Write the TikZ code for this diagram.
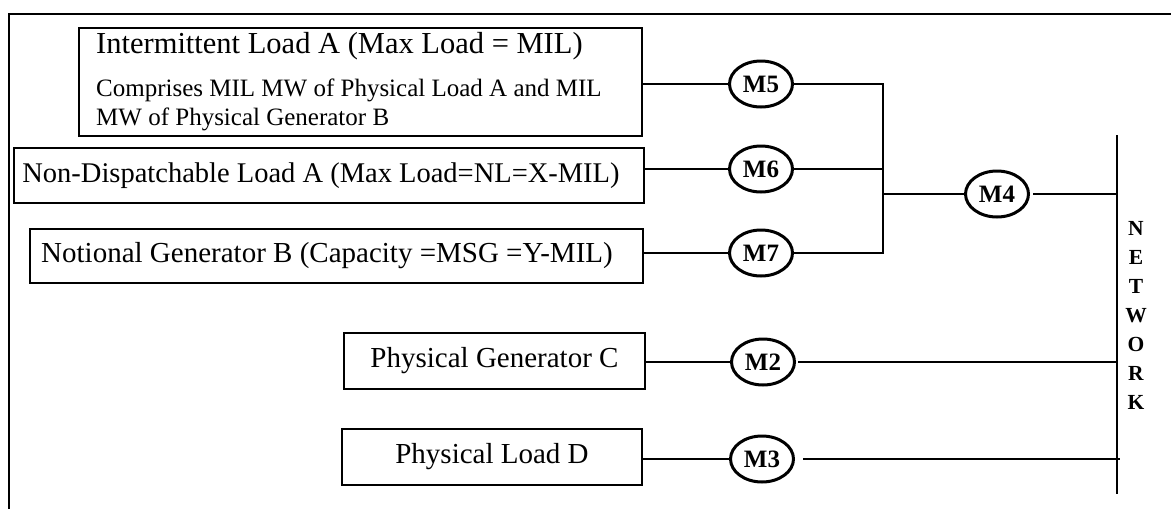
\documentclass[tikz,border=0pt]{standalone}
\usepackage{fontspec}
\setmainfont{Liberation Serif}
\usetikzlibrary{shapes.geometric}
\begin{document}
\begin{tikzpicture}[x=1pt,y=-1pt,
  box/.style={draw, line width=1.3pt, rectangle, inner sep=0pt, font=\fontsize{29}{32}\selectfont},
  meter/.style={draw, ellipse, line width=3pt, minimum width=63pt, minimum height=46pt, inner sep=0pt, font=\bfseries\fontsize{25}{28}\selectfont},
  wire/.style={line width=1.3pt},
  txt/.style={inner sep=0pt, anchor=base west}]
\useasboundingbox (0,0) rectangle (1171,509);
\draw[line width=2.7pt] (9,509) -- (9,14) -- (1171,14);
% boxes
\node[box, minimum width=563pt, minimum height=108pt] (b1) at (360.5,82) {};
\node[txt, font=\fontsize{30.5}{32}\selectfont] (t1) at (96,53) {Intermittent Load A (Max Load = MIL)};
\node[txt, font=\fontsize{25}{29}\selectfont] (t2) at (96,96) {Comprises MIL MW of Physical Load A and MIL};
\node[txt, font=\fontsize{25}{29}\selectfont] (t3) at (96,125) {MW of Physical Generator B};
\node[box, minimum width=630pt, minimum height=55pt] (b2) at (329,175.5) {};
\node[inner sep=0pt, font=\fontsize{28.5}{32}\selectfont] (t4) at (321,175.5) {Non-Dispatchable Load A (Max Load=NL=X-MIL)};
\node[box, minimum width=613pt, minimum height=54pt] (b3) at (336.5,256) {};
\node[inner sep=0pt, font=\fontsize{29}{32}\selectfont] (t5) at (327,256) {Notional Generator B (Capacity =MSG =Y-MIL)};
\node[box, minimum width=301pt, minimum height=56pt] (b4) at (494.5,361) {Physical Generator C};
\node[box, minimum width=300pt, minimum height=56pt] (b5) at (492,457) {Physical Load D};
% meters
\node[meter] (m5) at (761,84) {M5};
\node[meter] (m6) at (761,169) {M6};
\node[meter] (m7) at (761,253) {M7};
\node[meter] (m4) at (997,194) {M4};
\node[meter] (m2) at (763,362) {M2};
\node[meter] (m3) at (762,459) {M3};
% network bus
\coordinate (bt) at (1117,135);
\coordinate (bb) at (1117,494);
\coordinate (j4) at (883,194);
\draw[wire] (bt) -- (bb);
\node[font=\bfseries\fontsize{21.5}{29}\selectfont, align=center, inner sep=0pt] (net) at (1136,315) {N\\E\\T\\W\\O\\R\\K};
% connectors
\draw[wire] (b1.east |- m5) -- (m5.west);
\draw[wire] (b2.east |- m6) -- (m6.west);
\draw[wire] (b3.east |- m7) -- (m7.west);
\draw[wire] (b4.east |- m2) -- (m2.west);
\draw[wire] (b5.east |- m3) -- (m3.west);
\draw[wire] (m5.east) -- (m5.east -| j4) -- (m7.east -| j4) -- (m7.east);
\draw[wire] (m6.east) -- (m6.east -| j4);
\draw[wire] (j4) -- (m4.west);
\draw[wire] ([xshift=3pt]m4.east) -- (m4.east -| bt);
\draw[wire] ([xshift=2pt]m2.east) -- (m2.east -| bt);
\draw[wire] ([xshift=8pt]m3.east) -- ([xshift=3pt]m3.east -| bt);
\end{tikzpicture}
\end{document}
